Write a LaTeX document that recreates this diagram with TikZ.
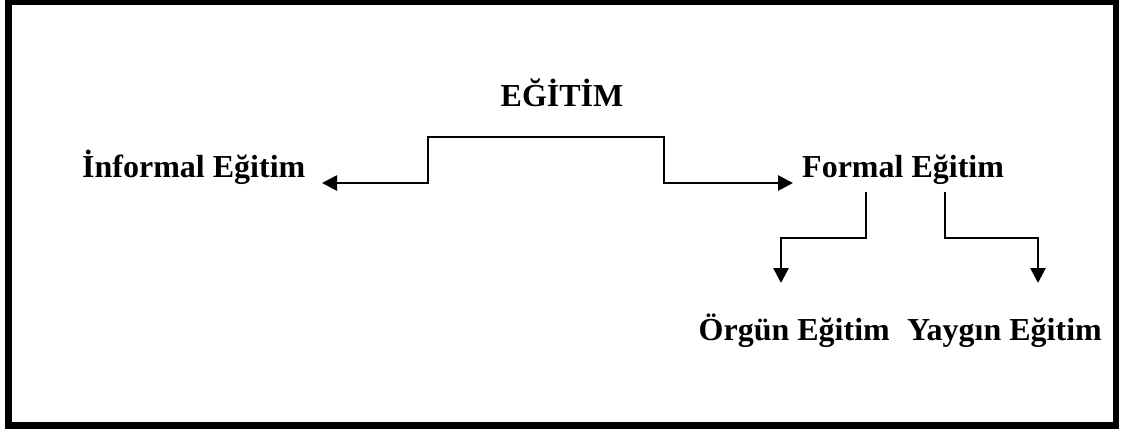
\documentclass[tikz,border=0pt]{standalone}
\usepackage{fontspec}
\setmainfont{Liberation Serif}
\usetikzlibrary{arrows.meta}
\begin{document}
\begin{tikzpicture}[x=1pt,y=-1pt,
  lbl/.style={font=\fontsize{32}{36}\selectfont\bfseries, inner sep=0pt},
  conn/.style={line width=2.7pt, -{Triangle[length=15pt,width=15pt]}}]
\useasboundingbox (0,0) rectangle (1128,432);
\draw[line width=6.5pt] (8.5,2) rectangle (1116,425.5);
\node[lbl, anchor=base] (egt) at (562,106) {EĞİTİM};
\node[lbl, anchor=base west] (inf) at (82,177) {İnformal Eğitim};
\node[lbl, anchor=base west] (frm) at (802,177) {Formal Eğitim};
\node[lbl, anchor=base east] (org) at (890,340) {Örgün Eğitim};
\node[lbl, anchor=base east] (yay) at (1102,340) {Yaygın Eğitim};
\coordinate (top) at (546,137);
\coordinate (lt) at (322,183);
\coordinate (rt) at (793,183);
\coordinate (b1) at (866,192);
\coordinate (b2) at (945,192);
\coordinate (t1) at (781,283);
\coordinate (t2) at (1038,283);
\draw[conn] (top) -| (428,183) -- (lt);
\draw[conn] (top) -| (664,183) -- (rt);
\draw[conn] (b1) |- (781,238) -- (t1);
\draw[conn] (b2) |- (1038,238) -- (t2);
\end{tikzpicture}
\end{document}
